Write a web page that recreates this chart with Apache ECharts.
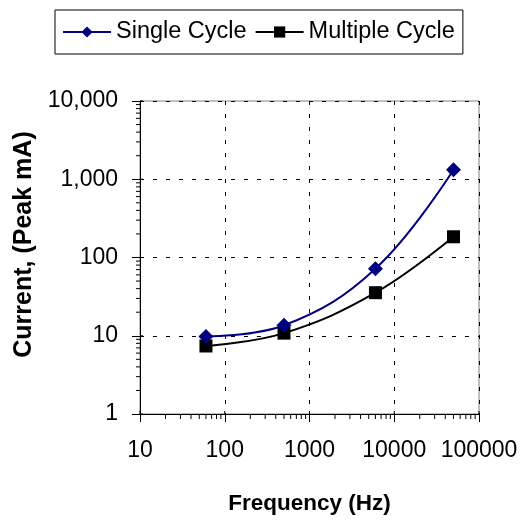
<!DOCTYPE html>
<html>
<head>
<meta charset="utf-8">
<script src="https://cdn.jsdelivr.net/npm/echarts@6/dist/echarts.min.js"></script>
<style>html,body{margin:0;padding:0;background:#fff}#c{width:521px;height:520px}</style>
</head>
<body>
<div id="c"></div>
<script>
var frequencies = [60, 500, 6000, 50000];
var singleCycle = [9.8, 13.6, 72, 1320];
var multipleCycle = [7.4, 10.8, 35.5, 184];
var seriesNames = ['Single Cycle', 'Multiple Cycle'];
var xTickValues = [10, 100, 1000, 10000, 100000];
var xTickLabels = ['10', '100', '1000', '10000', '100000'];
var yTickValues = [1, 10, 100, 1000, 10000];
var yTickLabels = ['1', '10', '100', '1,000', '10,000'];
var xMinorTicks = [20,30,40,50,60,70,80,90,200,300,400,500,600,700,800,900,2000,3000,4000,5000,6000,7000,8000,9000,20000,30000,40000,50000,60000,70000,80000,90000];
var yMinorTicks = [2,3,4,5,6,7,8,9,20,30,40,50,60,70,80,90,200,300,400,500,600,700,800,900,2000,3000,4000,5000,6000,7000,8000,9000];

var FONT = '"Liberation Sans", Arial, sans-serif';
var chart = echarts.init(document.getElementById('c'), null, {renderer: 'canvas'});

function lbl(values, labels) {
  return function (v) {
    for (var i = 0; i < values.length; i++) {
      if (Math.abs(values[i] - v) / values[i] < 1e-6) return labels[i];
    }
    return '';
  };
}

// tick marks: [x, y, kind]  kind 0 = x minor, 1 = y minor, 2 = x major inner part, 3 = y major inner part
var tickData = [];
xMinorTicks.forEach(function (v) { tickData.push([v, 1, 0]); });
yMinorTicks.forEach(function (v) { tickData.push([10, v, 1]); });
xTickValues.forEach(function (v) { tickData.push([v, 1, 2]); });
yTickValues.forEach(function (v) { tickData.push([10, v, 3]); });

chart.setOption({
  animation: false,
  textStyle: {fontFamily: FONT},
  legend: {
    data: seriesNames,
    left: 55, top: 10,
    orient: 'horizontal',
    borderColor: '#000', borderWidth: 1,
    padding: [10, 8, 10, 7],
    itemWidth: 48, itemHeight: 14, itemGap: 8,
    textStyle: {fontSize: 23.5, color: '#000', fontFamily: FONT}
  },
  grid: {left: 140, right: 42, top: 101, bottom: 105, show: true, borderColor: '#808080', borderWidth: 1},
  xAxis: {
    type: 'log', logBase: 10, min: 10, max: 100000,
    name: 'Frequency (Hz)', nameLocation: 'middle', nameGap: 78,
    nameTextStyle: {fontSize: 22.5, fontWeight: 'bold', color: '#000', fontFamily: FONT},
    axisLine: {lineStyle: {color: '#000', width: 1}},
    axisTick: {show: true, length: 8, lineStyle: {color: '#000'}},
    axisLabel: {fontSize: 23, color: '#000', margin: 25, formatter: lbl(xTickValues, xTickLabels), fontFamily: FONT},
    splitLine: {show: true, lineStyle: {color: '#000', type: [4, 9], width: 1}}
  },
  yAxis: {
    type: 'log', logBase: 10, min: 1, max: 10000,
    name: 'Current, (Peak mA)', nameLocation: 'middle', nameGap: 100,
    nameTextStyle: {fontSize: 25, fontWeight: 'bold', color: '#000', fontFamily: FONT, padding: [0, 0, 0, 26]},
    axisLine: {lineStyle: {color: '#000', width: 1}},
    axisTick: {show: true, length: 8, lineStyle: {color: '#000'}},
    axisLabel: {fontSize: 23, color: '#000', margin: 22, formatter: lbl(yTickValues, yTickLabels), fontFamily: FONT},
    splitLine: {show: true, lineStyle: {color: '#000', type: [4, 9], width: 1}}
  },
  series: [
    {
      name: 'ticks', type: 'custom', silent: true, clip: false, z: 5,
      data: tickData,
      renderItem: function (params, api) {
        var p = api.coord([api.value(0), api.value(1)]);
        var k = api.value(2);
        var shape;
        if (k === 0) shape = {x1: p[0], y1: p[1], x2: p[0], y2: p[1] + 5};
        else if (k === 1) shape = {x1: p[0] - 4, y1: p[1], x2: p[0], y2: p[1]};
        else if (k === 2) shape = {x1: p[0], y1: p[1] - 3, x2: p[0], y2: p[1]};
        else shape = {x1: p[0], y1: p[1], x2: p[0] + 3, y2: p[1]};
        return {type: 'line', shape: shape, style: {stroke: '#000', lineWidth: 1}};
      }
    },
    {
      name: seriesNames[0], type: 'line', smooth: 0.4, z: 3,
      data: frequencies.map(function (f, i) { return [f, singleCycle[i]]; }),
      symbol: 'diamond', symbolSize: 15,
      lineStyle: {color: '#000080', width: 2},
      itemStyle: {color: '#000080'}
    },
    {
      name: seriesNames[1], type: 'line', smooth: 0.4, z: 2,
      data: frequencies.map(function (f, i) { return [f, multipleCycle[i]]; }),
      symbol: 'rect', symbolSize: 13,
      lineStyle: {color: '#000', width: 2},
      itemStyle: {color: '#000'}
    }
  ]
});
</script>
</body>
</html>
